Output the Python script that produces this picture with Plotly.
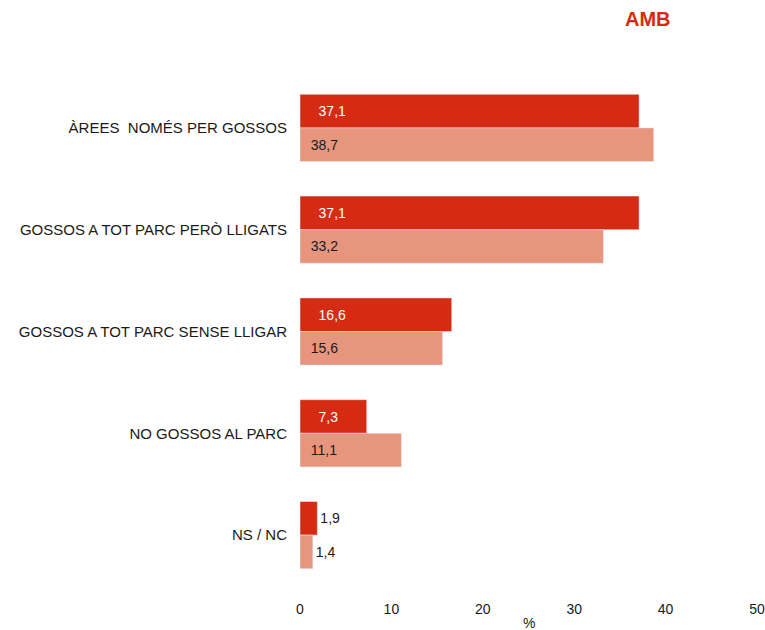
import plotly.graph_objects as go

categories = ["ÀREES  NOMÉS PER GOSSOS", "GOSSOS A TOT PARC PERÒ LLIGATS",
              "GOSSOS A TOT PARC SENSE LLIGAR", "NO GOSSOS AL PARC", "NS / NC"]
series_a = [37.1, 37.1, 16.6, 7.3, 1.9]
series_b = [38.7, 33.2, 15.6, 11.1, 1.4]
x_ticks = [0, 10, 20, 30, 40, 50]

FONT = "Liberation Sans, Arial"

def fmt(v, pad):
    return pad + f"{v:.1f}".replace(".", ",")

def positions(vals):
    return ["inside" if v > 4 else "outside" for v in vals]

def texts(vals, pad):
    return [fmt(v, pad if v > 4 else "") for v in vals]

fig = go.Figure()
fig.add_trace(go.Bar(
    y=categories, x=series_a, orientation="h", name="A",
    marker=dict(color="#D52B12"),
    text=texts(series_a, "    "), textposition=positions(series_a),
    insidetextanchor="start",
    insidetextfont=dict(color="white", size=14, family=FONT),
    outsidetextfont=dict(color="#1a1a1a", size=14, family=FONT),
    cliponaxis=False,
))
fig.add_trace(go.Bar(
    y=categories, x=series_b, orientation="h", name="B",
    marker=dict(color="#E8957D"),
    text=texts(series_b, "  "), textposition=positions(series_b),
    insidetextanchor="start",
    insidetextfont=dict(color="#1a1a1a", size=14, family=FONT),
    outsidetextfont=dict(color="#1a1a1a", size=14, family=FONT),
    cliponaxis=False,
))

W, H = 765, 630
L, R, T, B = 300, 8, 77, 44
ph = H - T - B
pw = W - L - R

fig.update_layout(
    width=W, height=H,
    barmode="group", bargap=0.34, bargroupgap=0,
    showlegend=False,
    plot_bgcolor="white", paper_bgcolor="white",
    margin=dict(l=L, r=R, t=T, b=B, autoexpand=False),
    font=dict(family=FONT, size=14, color="#1a1a1a"),
    annotations=[
        dict(text="<b>AMB</b>", xref="paper", yref="paper",
             x=(648 - L) / pw, y=1 + (T - 19) / ph, xanchor="center", yanchor="middle",
             showarrow=False, font=dict(size=20, color="#D52B12", family=FONT)),
        dict(text="%", xref="paper", yref="paper",
             x=0.5, y=-(623 - (H - B)) / ph, xanchor="center", yanchor="middle",
             showarrow=False, font=dict(size=14, color="#1a1a1a", family=FONT)),
    ],
)
fig.update_xaxes(range=[0, 50], tickvals=x_ticks, showgrid=False, zeroline=False,
                 showline=False, ticks="outside", ticklen=10, tickcolor="rgba(0,0,0,0)",
                 automargin=False, ticklabeloverflow="allow",
                 tickfont=dict(size=14, color="#1a1a1a", family=FONT))
fig.update_yaxes(autorange="reversed", showgrid=False, showline=False, ticks="",
                 automargin=False, ticklabelstandoff=12,
                 tickfont=dict(size=15, color="#1a1a1a", family=FONT))

fig.write_html(
    "out.html",
    config={"displayModeBar": False},
    post_script="document.body.style.margin='0';"
                "document.documentElement.style.overflow='hidden';",
)
